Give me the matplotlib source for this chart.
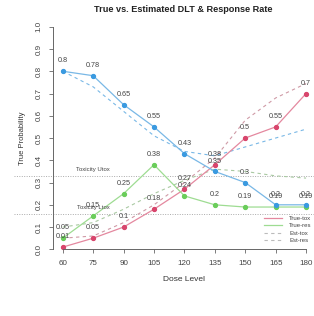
import matplotlib
matplotlib.use("Agg")
import matplotlib.pyplot as plt
from matplotlib.lines import Line2D

plt.rcParams['font.family'] = ['Liberation Sans', 'DejaVu Sans']

doses = [60, 75, 90, 105, 120, 135, 150, 165, 180]
true_tox = [0.01, 0.05, 0.10, 0.18, 0.27, 0.38, 0.50, 0.55, 0.70]
true_res = [0.05, 0.15, 0.25, 0.38, 0.24, 0.20, 0.19, 0.19, 0.19]
true_util = [0.80, 0.78, 0.65, 0.55, 0.43, 0.35, 0.30, 0.20, 0.20]
est_tox = [0.05, 0.06, 0.12, 0.20, 0.30, 0.41, 0.58, 0.68, 0.745]
est_res = [0.10, 0.12, 0.18, 0.25, 0.31, 0.36, 0.35, 0.33, 0.32]
est_util = [0.80, 0.73, 0.62, 0.51, 0.44, 0.42, 0.46, 0.50, 0.54]
utox, ltox = 0.33, 0.16
yticks = [0.0, 0.1, 0.2, 0.3, 0.4, 0.5, 0.6, 0.7, 0.8, 0.9, 1.0]

RED, GREEN, BLUE = '#d8456c', '#6acd5a', '#3a9ae0'
RED_L, GREEN_L, BLUE_L = '#e4889f', '#9edc92', '#79b8e6'

fig = plt.figure(figsize=(3.14, 3.16), dpi=100)
ax = fig.add_axes([0.1688, 0.211, 0.837, 0.7044])
ax.set_xlim(55.2, 184.8)
ax.set_ylim(0, 1.0)

# reference lines
for v in (utox, ltox):
    ax.axhline(v, xmin=-0.15, xmax=1.0, color='#aaaaaa', lw=0.7, ls=(0, (1, 1.5)), clip_on=False)
ax.text(75, 0.36, 'Toxicity Utox', fontsize=4.3, color='#444444', ha='center', va='center')
ax.text(75, 0.19, 'Toxicity Ltox', fontsize=4.3, color='#444444', ha='center', va='center')

# estimated dashed
ax.plot(doses, est_tox, color='#cf9aa6', lw=0.8, ls=(0, (3, 3)), clip_on=False)
ax.plot(doses, est_res, color='#a9c9a2', lw=0.8, ls=(0, (3, 3)), clip_on=False)
ax.plot(doses, est_util, color=BLUE_L, lw=0.8, ls=(0, (3, 3)), clip_on=False)

# true solid
for vals, lc, mc in ((true_tox, RED_L, RED), (true_res, GREEN_L, GREEN), (true_util, BLUE_L, BLUE)):
    ax.plot(doses, vals, color=lc, lw=0.9, clip_on=False)
    ax.plot(doses, vals, ls='none', marker='o', ms=2.8, color=mc, mec=mc, clip_on=False)
    for x, y in zip(doses, vals):
        ax.annotate(f'{y:g}', (x, y), xytext=(0, 7.5), textcoords='offset points',
                    ha='center', va='center', fontsize=5.2, color='#444444')

# axes styling
for s in ('top', 'right'):
    ax.spines[s].set_visible(False)
ax.spines['left'].set_bounds(0, 1)
ax.spines['bottom'].set_bounds(60, 180)
for s in ('left', 'bottom'):
    ax.spines[s].set_color('#666666')
    ax.spines[s].set_linewidth(0.7)
ax.set_xticks(doses)
ax.set_yticks(yticks)
ax.set_yticklabels([f'{t:.1f}' for t in yticks], rotation=90, va='center')
ax.tick_params(axis='both', length=3, width=0.6, color='#666666', labelsize=5.8,
               labelcolor='#444444', pad=4.5)

ax.set_xlabel('Dose Level', fontsize=6, color='#333333', labelpad=7)
ax.set_ylabel('True Probability', fontsize=5.5, color='#333333', labelpad=7)
fig.text(0.583, 0.970, 'True vs. Estimated DLT & Response Rate', fontsize=6.6,
         fontweight='bold', ha='center', va='center', color='#222222')

handles = [Line2D([], [], color=RED_L, lw=0.9),
           Line2D([], [], color=GREEN_L, lw=0.9),
           Line2D([], [], color='#bbbbbb', lw=0.8, ls=(0, (3, 3))),
           Line2D([], [], color='#bbbbbb', lw=0.8, ls=(0, (3, 3)))]
leg = ax.legend(handles, ['True-tox', 'True-res', 'Est-tox', 'Est-res'],
                loc='lower right', bbox_to_anchor=(1.0, 0.01), frameon=False,
                fontsize=4.3, handlelength=3.0, handletextpad=1.2, labelspacing=0.35,
                borderpad=0.2)
for t in leg.get_texts():
    t.set_color('#444444')

fig.savefig('out.png', dpi=100)
